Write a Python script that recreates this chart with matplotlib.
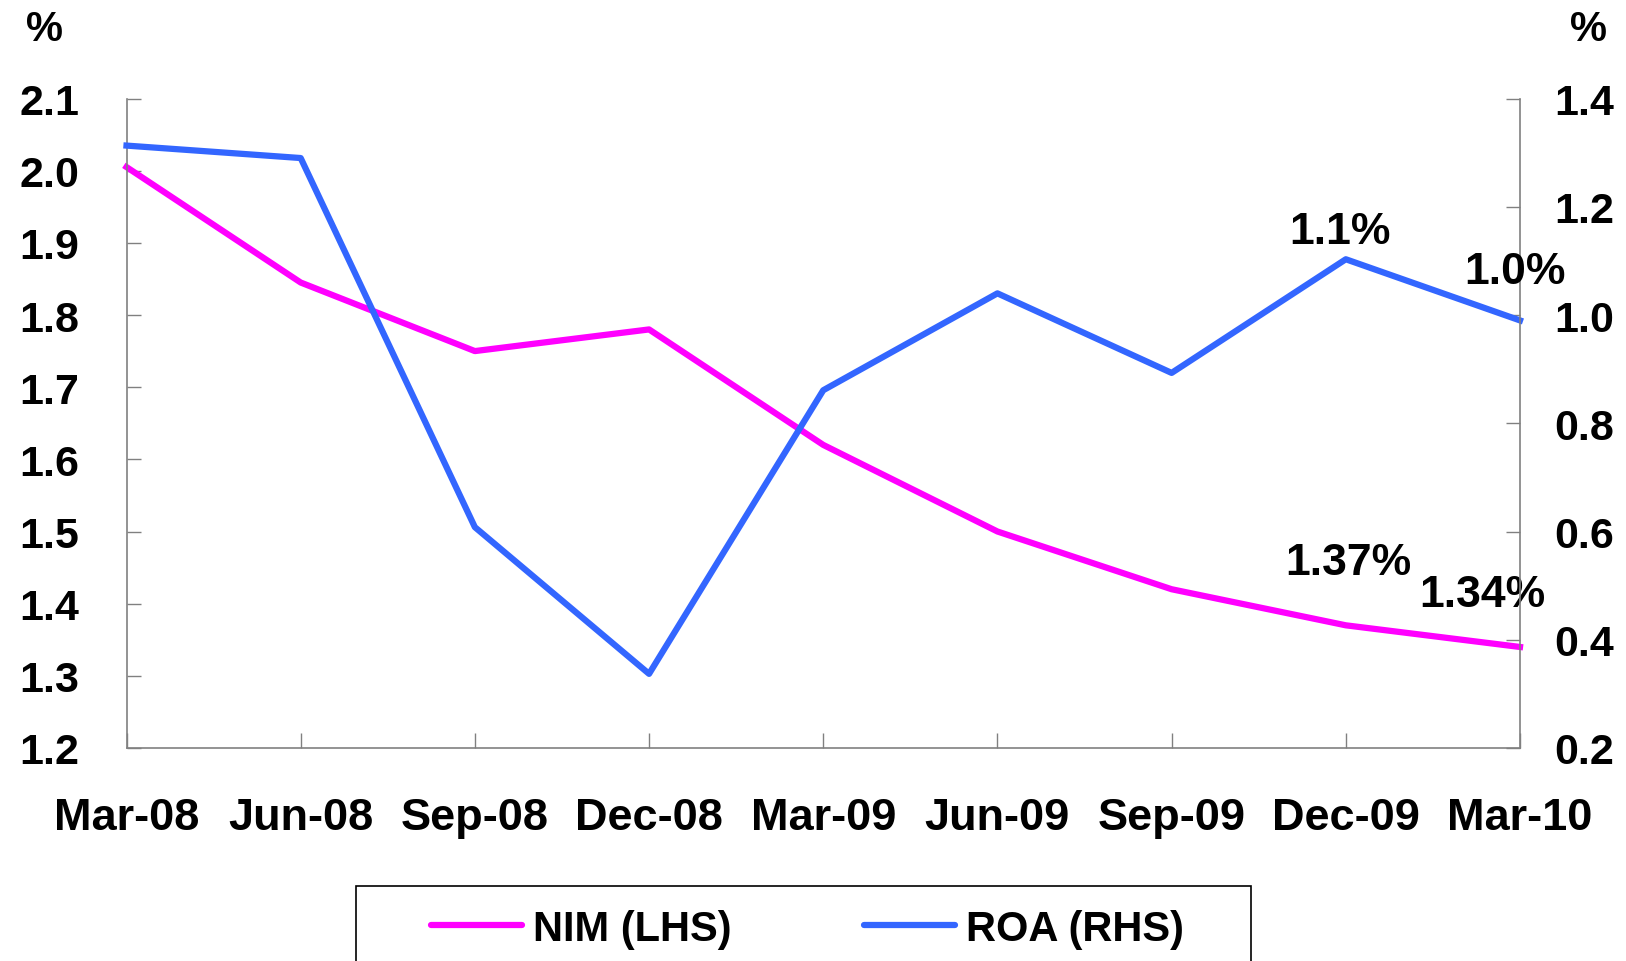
import matplotlib
matplotlib.use("Agg")
import matplotlib.pyplot as plt
from matplotlib.patches import Rectangle

plt.rcParams['font.family'] = ['Liberation Sans', 'DejaVu Sans']
plt.rcParams['font.weight'] = 'bold'

# data
quarters = ["Mar-08", "Jun-08", "Sep-08", "Dec-08", "Mar-09",
            "Jun-09", "Sep-09", "Dec-09", "Mar-10"]
nim = [2.005, 1.845, 1.75, 1.78, 1.62, 1.50, 1.42, 1.37, 1.34]
roa = [1.313, 1.29, 0.608, 0.337, 0.861, 1.04, 0.893, 1.103, 0.99]
left_ticks = [1.2, 1.3, 1.4, 1.5, 1.6, 1.7, 1.8, 1.9, 2.0, 2.1]
right_ticks = [0.2, 0.4, 0.6, 0.8, 1.0, 1.2, 1.4]

nim_color = "#FF00FF"
roa_color = "#3366FF"
grey = "#808080"

W, H = 1626, 962
fig = plt.figure(figsize=(W / 100, H / 100), dpi=100)
ax = fig.add_axes([126.5 / W, 1 - 749 / H, (1520 - 126.5) / W, (749 - 99.5) / H])
ax2 = ax.twinx()

x = list(range(len(quarters)))
l1, = ax.plot(x, nim, color=nim_color, lw=4.5, label="NIM (LHS)", clip_on=False)
l2, = ax2.plot(x, roa, color=roa_color, lw=4.5, label="ROA (RHS)", clip_on=False)

ax.set_xlim(0, len(quarters) - 1)
ax.set_ylim(1.2, 2.1)
ax2.set_ylim(0.2, 1.4)

ax.set_xticks(x)
ax.set_xticklabels(quarters, fontsize=32.5, fontweight='bold')
ax.set_yticks(left_ticks)
ax.set_yticklabels(["%.1f" % v for v in left_ticks], fontsize=31, fontweight='bold')
ax2.set_yticks(right_ticks)
ax2.set_yticklabels(["%.1f" % v for v in right_ticks], fontsize=31, fontweight='bold')

ax.tick_params(axis='x', direction='in', length=11, width=1, color=grey, pad=35)
ax.tick_params(axis='y', direction='in', length=10, width=1, color=grey, pad=34)
ax2.tick_params(axis='y', direction='in', length=10, width=1, color=grey, pad=25)

for s in ["top", "right"]:
    ax.spines[s].set_visible(False)
for s in ["top", "left", "bottom"]:
    ax2.spines[s].set_visible(False)
ax.spines["left"].set_color(grey)
ax.spines["bottom"].set_color(grey)
ax2.spines["right"].set_color(grey)
for sp in [ax.spines["left"], ax.spines["bottom"], ax2.spines["right"]]:
    sp.set_linewidth(1.2)

# units on top of both axes
fig.text(44 / W, 1 - 30 / H, "%", fontsize=30, fontweight='bold', ha='center', va='center')
fig.text(1588 / W, 1 - 30 / H, "%", fontsize=30, fontweight='bold', ha='center', va='center')

# value labels
ax2.annotate("1.1%", (7, roa[7]), xytext=(-4, 20), textcoords='offset points',
             fontsize=32, fontweight='bold', ha='center', va='center')
ax2.annotate("1.0%", (8, roa[8]), xytext=(-4, 35), textcoords='offset points',
             fontsize=32, fontweight='bold', ha='center', va='center')
ax.annotate("1.37%", (7, nim[7]), xytext=(2, 45), textcoords='offset points',
            fontsize=32, fontweight='bold', ha='center', va='center')
ax.annotate("1.34%", (8, nim[8]), xytext=(-27, 38), textcoords='offset points',
            fontsize=32, fontweight='bold', ha='center', va='center')

# legend with box running off the bottom edge
leg = fig.legend([l1, l2], ["NIM (LHS)", "ROA (RHS)"], ncol=2, frameon=False,
                 loc='center', bbox_to_anchor=(807.5 / W, 1 - 930 / H),
                 handlelength=2.18, handletextpad=0.26,
                 columnspacing=3.2, prop={'weight': 'bold', 'size': 30})
for h in leg.legend_handles:
    h.set_solid_capstyle('round')
box = Rectangle((356 / W, -20 / H), (1251 - 356) / W, (962 - 887 + 20) / H,
                transform=fig.transFigure, fill=False, edgecolor='black',
                linewidth=1.2, clip_on=False)
fig.patches.append(box)

fig.savefig("out.png", dpi=100)
